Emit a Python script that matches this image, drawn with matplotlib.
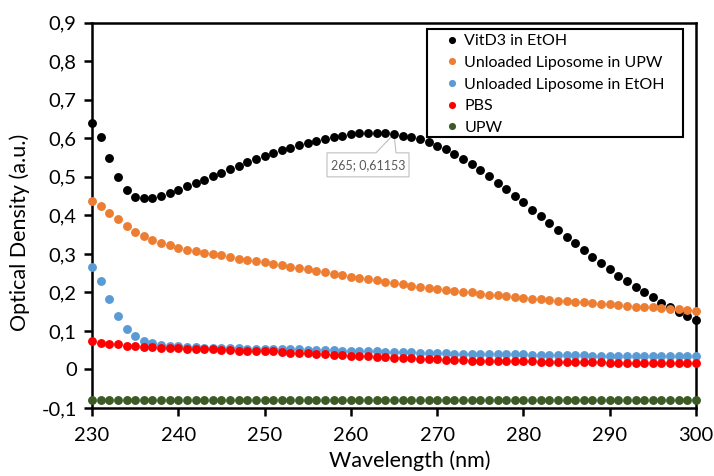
import matplotlib
matplotlib.use("Agg")
import matplotlib.pyplot as plt
from matplotlib.patches import Polygon, Rectangle
from matplotlib.ticker import FuncFormatter, MultipleLocator

plt.rcParams['font.family'] = ['Lato', 'DejaVu Sans']

# wavelength in nm, one reading per nm
wavelength = list(range(230, 301))

vitd3_etoh = [
    0.640, 0.603, 0.550, 0.500, 0.467, 0.448, 0.444, 0.444, 0.450, 0.458,
    0.466, 0.475, 0.484, 0.493, 0.502, 0.510, 0.519, 0.529, 0.538, 0.546,
    0.554, 0.562, 0.569, 0.576, 0.582, 0.588, 0.593, 0.597, 0.603, 0.607,
    0.610, 0.613, 0.615, 0.615, 0.613, 0.61153, 0.607, 0.604, 0.598, 0.590,
    0.581, 0.572, 0.560, 0.547, 0.534, 0.517, 0.501, 0.485, 0.469, 0.451,
    0.434, 0.415, 0.398, 0.380, 0.361, 0.343, 0.328, 0.309, 0.293, 0.276,
    0.260, 0.243, 0.229, 0.214, 0.200, 0.187, 0.172, 0.162, 0.149, 0.140,
    0.129,
]
lipo_upw = [
    0.436, 0.424, 0.407, 0.391, 0.372, 0.358, 0.346, 0.335, 0.329, 0.322,
    0.316, 0.311, 0.308, 0.303, 0.299, 0.296, 0.291, 0.287, 0.285, 0.282,
    0.278, 0.274, 0.271, 0.267, 0.264, 0.260, 0.256, 0.252, 0.248, 0.244,
    0.240, 0.237, 0.234, 0.231, 0.227, 0.224, 0.221, 0.217, 0.215, 0.212,
    0.209, 0.206, 0.204, 0.202, 0.200, 0.197, 0.194, 0.192, 0.190, 0.188,
    0.186, 0.183, 0.182, 0.180, 0.179, 0.177, 0.175, 0.174, 0.172, 0.170,
    0.169, 0.167, 0.165, 0.163, 0.162, 0.161, 0.159, 0.157, 0.156, 0.154,
    0.152,
]
lipo_etoh = [
    0.267, 0.229, 0.182, 0.138, 0.106, 0.087, 0.075, 0.068, 0.064, 0.061,
    0.060, 0.059, 0.058, 0.057, 0.056, 0.056, 0.055, 0.055, 0.054, 0.054,
    0.053, 0.053, 0.052, 0.052, 0.052, 0.051, 0.051, 0.050, 0.050, 0.049,
    0.048, 0.048, 0.047, 0.047, 0.046, 0.046, 0.045, 0.045, 0.044, 0.043,
    0.043, 0.042, 0.041, 0.041, 0.041, 0.040, 0.040, 0.040, 0.039, 0.039,
    0.039, 0.038, 0.038, 0.038, 0.037, 0.037, 0.037, 0.037, 0.036, 0.036,
    0.036, 0.036, 0.035, 0.035, 0.035, 0.035, 0.035, 0.034, 0.034, 0.034,
    0.034,
]
pbs = [
    0.073, 0.069, 0.067, 0.065, 0.062, 0.061, 0.058, 0.058, 0.056, 0.056,
    0.055, 0.054, 0.054, 0.053, 0.052, 0.051, 0.051, 0.049, 0.049, 0.048,
    0.048, 0.047, 0.045, 0.044, 0.043, 0.042, 0.041, 0.039, 0.038, 0.037,
    0.036, 0.035, 0.034, 0.033, 0.032, 0.031, 0.030, 0.029, 0.028, 0.027,
    0.026, 0.025, 0.024, 0.024, 0.023, 0.023, 0.022, 0.022, 0.022, 0.021,
    0.021, 0.021, 0.020, 0.020, 0.020, 0.020, 0.019, 0.019, 0.019, 0.019,
    0.018, 0.018, 0.018, 0.018, 0.017, 0.017, 0.017, 0.017, 0.016, 0.016,
    0.016,
]
upw = [
    -0.079, -0.079, -0.079, -0.079, -0.079, -0.079, -0.079, -0.079, -0.079, -0.079,
    -0.079, -0.079, -0.079, -0.079, -0.079, -0.079, -0.079, -0.079, -0.079, -0.079,
    -0.079, -0.079, -0.079, -0.079, -0.079, -0.078, -0.078, -0.078, -0.078, -0.078,
    -0.078, -0.078, -0.078, -0.078, -0.078, -0.078, -0.078, -0.078, -0.078, -0.078,
    -0.078, -0.078, -0.078, -0.078, -0.078, -0.078, -0.078, -0.078, -0.078, -0.078,
    -0.078, -0.078, -0.078, -0.078, -0.078, -0.078, -0.078, -0.078, -0.078, -0.078,
    -0.078, -0.078, -0.078, -0.078, -0.078, -0.078, -0.078, -0.078, -0.078, -0.078,
    -0.078,
]

series = [
    ("VitD3 in EtOH", vitd3_etoh, "#000000"),
    ("Unloaded Liposome in UPW", lipo_upw, "#ED7D31"),
    ("Unloaded Liposome in EtOH", lipo_etoh, "#5B9BD5"),
    ("PBS", pbs, "#FF0000"),
    ("UPW", upw, "#3B5A26"),
]

# the labelled point
label_wl = 265

W, H = 714, 476
fig = plt.figure(figsize=(W / 100, H / 100), dpi=100)
ax = fig.add_axes([92 / W, 1 - 408 / H, 604 / W, 385.3 / H])

for name, vals, col in series:
    ax.plot(wavelength, vals, "o", ls="none", color=col, markersize=6.4,
            markeredgewidth=0, label=name, zorder=3, clip_on=False)

ax.set_xlim(230, 300)
ax.set_ylim(-0.1, 0.9)
ax.xaxis.set_major_locator(MultipleLocator(10))
ax.yaxis.set_major_locator(MultipleLocator(0.1))
ax.yaxis.set_major_formatter(FuncFormatter(
    lambda v, p: "0" if abs(v) < 1e-9 else f"{v:.1f}".replace(".", ",")))

for s in ax.spines.values():
    s.set_linewidth(1.8)
ax.tick_params(direction="out", length=6, width=1.8, labelsize=14.5)
ax.tick_params(axis="x", pad=8)
ax.tick_params(axis="y", pad=5)
ax.set_xlabel("Wavelength (nm)", fontsize=15.5)
ax.set_ylabel("Optical Density (a.u.)", fontsize=15.5)
ax.xaxis.set_label_coords((410 - 92) / 604, (408 - 450) / 385.3)
ax.yaxis.set_label_coords((30 - 92) / 604, (408 - 232) / 385.3)

# legend: black frame drawn separately, entries placed inside it
ax.add_patch(Rectangle((427 / W, 1 - 137 / H), 256 / W, 108 / H,
                       transform=fig.transFigure, facecolor="white",
                       edgecolor="black", linewidth=1.5, zorder=4,
                       clip_on=False))
leg = ax.legend(loc="upper left", bbox_to_anchor=(446 / W, 1 - 34 / H),
                bbox_transform=fig.transFigure, borderaxespad=0, borderpad=0,
                fontsize=11.5, frameon=False, markerscale=0.8,
                handlelength=0.8, handletextpad=0.35, labelspacing=0.47)
leg.set_zorder(5)

# callout with the value of the labelled point
i = wavelength.index(label_wl)
tip = ax.transData.transform((wavelength[i], vitd3_etoh[i]))
verts = [(0, 0), (2, -19), (15, -19), (15, -43), (-67, -43), (-67, -19), (-18, -19)]
poly = Polygon([(tip[0] + vx, tip[1] + vy) for vx, vy in verts], closed=True,
               transform=None, facecolor="white", edgecolor="#BFBFBF",
               linewidth=0.8, zorder=2)
ax.add_patch(poly)
ax.text(tip[0] - 26, tip[1] - 31,
        f"{label_wl}; {vitd3_etoh[i]:.5f}".replace(".", ","), transform=None,
        ha="center", va="center", fontsize=9, color="#595959", zorder=2.5)

fig.savefig("out.png", dpi=100)
